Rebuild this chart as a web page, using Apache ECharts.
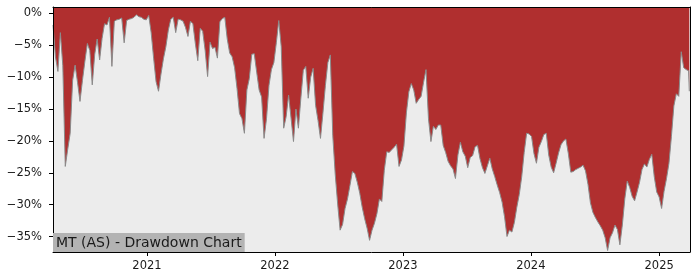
<!DOCTYPE html>
<html>
<head>
<meta charset="utf-8">
<script src="https://cdn.jsdelivr.net/npm/echarts@6/dist/echarts.min.js"></script>
<style>
html,body{margin:0;padding:0;background:#fff;}
#chart{width:700px;height:280px;}
</style>
</head>
<body>
<div id="chart"></div>
<script>
// Weekly observation dates (drawdown sampled roughly once per week)
const dates = [
'2020-04-08','2020-04-15','2020-04-22','2020-04-29','2020-05-06','2020-05-13','2020-05-20','2020-05-27','2020-06-03','2020-06-10',
'2020-06-17','2020-06-24','2020-07-01','2020-07-08','2020-07-15','2020-07-22','2020-07-29','2020-08-05','2020-08-12','2020-08-19',
'2020-08-26','2020-09-02','2020-09-09','2020-09-16','2020-09-23','2020-09-30','2020-10-07','2020-10-14','2020-10-21','2020-10-28',
'2020-11-04','2020-11-11','2020-11-18','2020-11-25','2020-12-02','2020-12-09','2020-12-16','2020-12-23','2020-12-30',
'2021-01-06','2021-01-13','2021-01-20','2021-01-27','2021-02-03','2021-02-10','2021-02-17','2021-02-24','2021-03-03','2021-03-10',
'2021-03-17','2021-03-24','2021-03-31','2021-04-07','2021-04-14','2021-04-21','2021-04-28','2021-05-05','2021-05-12','2021-05-19',
'2021-05-26','2021-06-02','2021-06-09','2021-06-16','2021-06-23','2021-06-30','2021-07-07','2021-07-14','2021-07-21','2021-07-28',
'2021-08-04','2021-08-11','2021-08-18','2021-08-25','2021-09-01','2021-09-08','2021-09-15','2021-09-22','2021-09-29','2021-10-06',
'2021-10-13','2021-10-20','2021-10-27','2021-11-03','2021-11-10','2021-11-17','2021-11-24','2021-12-01','2021-12-08','2021-12-15',
'2021-12-22','2021-12-29',
'2022-01-05','2022-01-12','2022-01-19','2022-01-26','2022-02-02','2022-02-09','2022-02-16','2022-02-23','2022-03-02','2022-03-09',
'2022-03-16','2022-03-23','2022-03-30','2022-04-06','2022-04-13','2022-04-20','2022-04-27','2022-05-04','2022-05-11','2022-05-18',
'2022-05-25','2022-06-01','2022-06-08','2022-06-15','2022-06-22','2022-06-29','2022-07-06','2022-07-13','2022-07-20','2022-07-27',
'2022-08-03','2022-08-10','2022-08-17','2022-08-24','2022-08-31','2022-09-07','2022-09-14','2022-09-21','2022-09-28','2022-10-05',
'2022-10-12','2022-10-19','2022-10-26','2022-11-02','2022-11-09','2022-11-16','2022-11-23','2022-11-30','2022-12-07','2022-12-14',
'2022-12-21','2022-12-28',
'2023-01-04','2023-01-11','2023-01-18','2023-01-25','2023-02-01','2023-02-08','2023-02-15','2023-02-22','2023-03-01','2023-03-08',
'2023-03-15','2023-03-22','2023-03-29','2023-04-05','2023-04-12','2023-04-19','2023-04-26','2023-05-03','2023-05-10','2023-05-17',
'2023-05-24','2023-05-31','2023-06-07','2023-06-14','2023-06-21','2023-06-28','2023-07-05','2023-07-12','2023-07-19','2023-07-26',
'2023-08-02','2023-08-09','2023-08-16','2023-08-23','2023-08-30','2023-09-06','2023-09-13','2023-09-20','2023-09-27','2023-10-04',
'2023-10-11','2023-10-18','2023-10-25','2023-11-01','2023-11-08','2023-11-15','2023-11-22','2023-11-29','2023-12-06','2023-12-13',
'2023-12-20','2023-12-27',
'2024-01-03','2024-01-10','2024-01-17','2024-01-24','2024-01-31','2024-02-07','2024-02-14','2024-02-21','2024-02-28','2024-03-06',
'2024-03-13','2024-03-20','2024-03-27','2024-04-03','2024-04-10','2024-04-17','2024-04-24','2024-05-01','2024-05-08','2024-05-15',
'2024-05-22','2024-05-29','2024-06-05','2024-06-12','2024-06-19','2024-06-26','2024-07-03','2024-07-10','2024-07-17','2024-07-24',
'2024-07-31','2024-08-07','2024-08-14','2024-08-21','2024-08-28','2024-09-04','2024-09-11','2024-09-18','2024-09-25','2024-10-02',
'2024-10-09','2024-10-16','2024-10-23','2024-10-30','2024-11-06','2024-11-13','2024-11-20','2024-11-27','2024-12-04','2024-12-11',
'2024-12-18','2024-12-25',
'2025-01-01','2025-01-08','2025-01-15','2025-01-22','2025-01-29','2025-02-05','2025-02-12','2025-02-19','2025-02-26','2025-03-05',
'2025-03-12','2025-03-19','2025-03-26','2025-03-28'
];

// Drawdown in percent
const drawdown = [
-1.8,-6.8,-9.1,-3.0,-8.2,-24.0,-21.3,-18.8,-10.5,-8.1,
-10.8,-13.8,-10.5,-7.5,-4.7,-5.8,-11.2,-6.4,-4.0,-7.3,
-3.9,-1.6,-1.8,-0.6,-8.3,-1.2,-1.0,-0.9,-0.7,-4.6,
-1.1,-0.9,-0.8,-0.6,-0.2,-0.5,-0.6,-0.9,-1.0,
-0.3,-3.0,-7.0,-10.7,-12.2,-9.5,-7.1,-5.2,-2.6,-0.9,
-0.6,-3.0,-0.9,-1.0,-1.2,-2.2,-3.6,-1.2,-1.6,-4.7,
-7.4,-2.3,-2.8,-5.8,-9.9,-4.5,-5.5,-5.3,-7.0,-1.3,
-0.8,-0.6,-4.0,-6.2,-6.8,-8.5,-11.8,-15.7,-16.5,-18.8,
-12.0,-10.2,-6.4,-6.3,-9.2,-12.0,-13.1,-19.6,-16.5,-11.3,
-8.8,-7.7,
-4.6,-1.1,-5.2,-18.0,-16.2,-12.8,-16.4,-20.1,-15.0,-18.0,
-13.3,-8.9,-8.3,-13.3,-10.0,-8.6,-14.4,-16.8,-19.6,-15.6,
-11.3,-7.7,-6.5,-19.1,-25.2,-29.9,-34.0,-33.1,-30.6,-29.1,
-27.0,-24.8,-25.1,-26.5,-28.2,-30.4,-32.2,-33.7,-35.6,-34.0,
-32.9,-31.4,-29.1,-29.5,-24.6,-21.7,-21.8,-21.4,-21.0,-20.5,
-24.0,-23.0,
-20.8,-15.6,-12.3,-11.0,-12.0,-14.1,-13.5,-13.0,-10.8,-8.8,
-16.5,-20.1,-17.7,-18.2,-17.5,-17.5,-20.7,-21.8,-23.2,-23.9,
-24.4,-25.9,-22.2,-20.2,-21.7,-22.4,-24.2,-22.6,-22.3,-20.9,
-20.7,-22.8,-24.2,-25.1,-23.9,-22.7,-24.4,-25.6,-26.9,-28.1,
-29.6,-31.9,-35.0,-34.0,-34.3,-32.8,-30.4,-28.4,-25.6,-21.8,
-18.8,-18.9,
-19.3,-22.0,-23.5,-21.0,-20.1,-19.0,-18.8,-22.2,-24.1,-25.0,
-23.5,-21.9,-20.6,-20.0,-19.7,-22.0,-24.9,-24.8,-24.5,-24.3,
-24.1,-23.8,-24.7,-26.8,-29.7,-31.2,-32.0,-32.7,-33.3,-34.0,
-35.2,-37.2,-35.2,-34.4,-33.2,-33.9,-36.3,-33.2,-29.1,-26.3,
-27.3,-28.7,-29.4,-28.0,-26.5,-24.5,-23.6,-24.1,-22.9,-22.1,
-25.6,-28.0,
-28.8,-30.6,-27.9,-25.9,-23.5,-19.3,-14.5,-12.6,-13.0,-6.0,
-8.5,-8.8,-9.0,-12.2
];

const yTicks = [0, -5, -10, -15, -20, -25, -30, -35];
const yearTicks = [2021, 2022, 2023, 2024, 2025];
const chartTitle = 'MT (AS) - Drawdown Chart';

function toTime(s) {
  const p = s.split('-').map(Number);
  return new Date(p[0], p[1] - 1, p[2]).getTime();
}
const seriesData = dates.map((d, i) => [toTime(d), drawdown[i]]);
const yearTickTimes = yearTicks.map(y => new Date(y, 0, 1).getTime());
const xMin = toTime('2020-04-08');
const xMax = toTime('2025-03-30');
const yMin = -37.43, yMax = 1.02;

const font = 'DejaVu Sans';
const chart = echarts.init(document.getElementById('chart'), null, {renderer: 'canvas'});
chart.setOption({
  animation: false,
  backgroundColor: '#ffffff',
  textStyle: {fontFamily: font},
  title: {
    text: chartTitle,
    left: 53,
    bottom: 28,
    backgroundColor: '#b3b3b3',
    padding: [2, 3, 1, 3],
    itemGap: 0,
    textStyle: {fontFamily: font, fontSize: 14, fontWeight: 'normal', color: '#1a1a1a', lineHeight: 16}
  },
  grid: {left: 53, right: 10, top: 7, bottom: 28, show: true, backgroundColor: '#ececec', borderWidth: 0},
  xAxis: [{
    type: 'value', min: xMin, max: xMax, position: 'bottom', z: 5,
    axisLine: {show: true, onZero: false, lineStyle: {color: '#000', width: 1}},
    axisTick: {show: true, length: 4, lineStyle: {color: '#000'}, customValues: yearTickTimes},
    axisLabel: {customValues: yearTickTimes, margin: 8, fontSize: 11.5, color: '#1a1a1a', fontFamily: font,
      formatter: v => String(new Date(v).getFullYear())},
    splitLine: {show: false}
  }, {
    type: 'value', min: xMin, max: xMax, position: 'top', z: 5,
    axisLine: {show: true, onZero: false, lineStyle: {color: '#000', width: 1}},
    axisTick: {show: false}, axisLabel: {show: false}, splitLine: {show: false}
  }],
  yAxis: [{
    type: 'value', min: yMin, max: yMax, position: 'left', z: 5,
    axisLine: {show: true, onZero: false, lineStyle: {color: '#000', width: 1}},
    axisTick: {show: true, length: 4, lineStyle: {color: '#000'}, customValues: yTicks},
    axisLabel: {customValues: yTicks, margin: 11, fontSize: 11.5, color: '#1a1a1a', fontFamily: font,
      formatter: v => (v < 0 ? '\u2212' + Math.abs(v) : String(v)) + '%'},
    splitLine: {show: false}
  }, {
    type: 'value', min: yMin, max: yMax, position: 'right', z: 5,
    axisLine: {show: true, onZero: false, lineStyle: {color: '#000', width: 1}},
    axisTick: {show: false}, axisLabel: {show: false}, splitLine: {show: false}
  }],
  series: [{
    type: 'line',
    xAxisIndex: 0, yAxisIndex: 0,
    data: seriesData,
    showSymbol: false,
    symbol: 'none',
    lineStyle: {color: '#8a8a8a', width: 1},
    areaStyle: {color: '#b02f2f', opacity: 1, origin: 'end'},
    z: 2
  }]
});
</script>
</body>
</html>
